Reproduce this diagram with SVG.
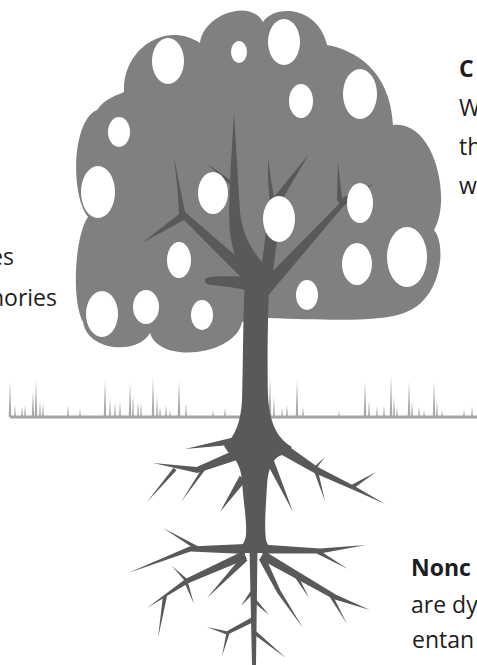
<svg xmlns="http://www.w3.org/2000/svg" width="477" height="665" viewBox="0 0 477 665">
  <style>
    .crown { fill: #7f8082; }
    .wood { fill: #58595b; }
    .hole { fill: #ffffff; }
    .grass { fill: #a9a9a9; }
    .soil { fill: #a3a3a3; }
    .txt { font-family: "Open Sans", "Noto Sans", "Liberation Sans", sans-serif; font-size: 23px; fill: #1d1d1d; }
    .bold { font-weight: 700; }
  </style>
  <rect width="477" height="665" fill="#ffffff"/>

  <!-- leafy crown -->
  <g id="crown">
    <path class="crown" d="M 200,43 C 203,15 250,-2 263,22 C 275,4 318,6 327,45 C 355,50 390,70 393,125 C 435,120 452,200 434,230 C 447,245 442,300 404,313 C 380,322 330,320 268,318 L 242,322 C 236,355 160,365 150,333 C 138,355 88,352 83,322 C 71,300 75,235 88,217 C 70,195 72,120 97,110 C 105,98 118,95 124,92 C 122,50 165,20 200,43 Z"/>
  </g>

  <!-- ground line with grass -->
  <g id="ground">
    <rect class="soil" x="10" y="415.5" width="467" height="3"/>
    <g class="grass">
      <polygon points="8.7,417 10,381 11.3,417"/>
      <polygon points="14,417 15,405 16,417"/>
      <polygon points="21,417 22,406 23,417"/>
      <polygon points="24,417 25,405 26,417"/>
      <polygon points="31.8,417 33,390 34.2,417"/>
      <polygon points="34.7,417 36,380 37.3,417"/>
      <polygon points="39,417 40,401 41,417"/>
      <polygon points="42,417 43,403 44,417"/>
      <polygon points="67,417 68,405 69,417"/>
      <polygon points="79,417 80,408 81,417"/>
      <polygon points="103.7,417 105,380 106.3,417"/>
      <polygon points="109,417 110,398 111,417"/>
      <polygon points="114,417 115,403 116,417"/>
      <polygon points="119,417 120,401 121,417"/>
      <polygon points="128.7,417 130,383 131.3,417"/>
      <polygon points="132,417 133,395 134,417"/>
      <polygon points="137,417 138,401 139,417"/>
      <polygon points="140,417 141,403 142,417"/>
      <polygon points="151.7,417 153,377 154.3,417"/>
      <polygon points="156,417 157,396 158,417"/>
      <polygon points="159,417 160,406 161,417"/>
      <polygon points="165,417 166,405 167,417"/>
      <polygon points="169,417 170,410 171,417"/>
      <polygon points="177.7,417 179,380 180.3,417"/>
      <polygon points="185,417 186,403 187,417"/>
      <polygon points="212,417 213,410 214,417"/>
      <polygon points="224,417 225,408 226,417"/>
      <polygon points="268.7,417 270,377 271.3,417"/>
      <polygon points="273,417 274,396 275,417"/>
      <polygon points="281,417 282,408 283,417"/>
      <polygon points="286,417 287,405 288,417"/>
      <polygon points="295.7,417 297,380 298.3,417"/>
      <polygon points="302,417 303,407 304,417"/>
      <polygon points="338,417 339,411 340,417"/>
      <polygon points="363.7,417 365,381 366.3,417"/>
      <polygon points="368,417 369,400 370,417"/>
      <polygon points="376,417 377,406 378,417"/>
      <polygon points="383,417 384,405 385,417"/>
      <polygon points="389.7,417 391,376 392.3,417"/>
      <polygon points="393,417 394,396 395,417"/>
      <polygon points="396,417 397,408 398,417"/>
      <polygon points="407.7,417 409,381 410.3,417"/>
      <polygon points="411,417 412,401 413,417"/>
      <polygon points="418,417 419,406 420,417"/>
      <polygon points="423,417 424,410 425,417"/>
      <polygon points="432.7,417 434,381 435.3,417"/>
      <polygon points="436,417 437,400 438,417"/>
      <polygon points="441,417 442,410 443,417"/>
      <polygon points="463,417 464,410 465,417"/>
      <polygon points="471,417 472,406 473,417"/>
    </g>
  </g>

  <!-- limbs inside the crown -->
  <g id="branches" class="wood">
    <path d="M 234,113 L 237.5,170 L 240,212 C 242,232 250,248 262,262 L 264,282 L 244,288 C 238,266 231,246 229.5,228 L 229,210 L 230.5,170 Z"/>
    <polygon points="232.3,181.4 206,163 229.8,184.6"/>
    <polygon points="252.7,270.5 185,212 180.5,190 174,157 177.5,190 179,214 142,243 184,220 243.3,279.5"/>
    <polygon points="260,278 266,232 270,205 268,180 268,157 271,180 274,197 309,154 280,203 278,232 272,280"/>
    <polygon points="256.9,287.2 339.4,203.6 337,200 338,162 342,198 373,184 343.5,206 267.1,296.8"/>
    <path d="M 250,277 C 235,276 220,276 210,277 Q 204,278 205,281 Q 206,285 211,285 C 224,286 238,288 250,291 Z"/>
  </g>

  <!-- openings in the foliage -->
  <g id="holes" class="hole">
    <ellipse cx="168" cy="61" rx="16" ry="23"/>
    <ellipse cx="239" cy="52" rx="8" ry="11"/>
    <ellipse cx="284" cy="42" rx="16" ry="23"/>
    <ellipse cx="301" cy="101" rx="12" ry="17"/>
    <ellipse cx="360" cy="94" rx="17" ry="25"/>
    <ellipse cx="119" cy="132" rx="11" ry="15"/>
    <ellipse cx="98" cy="192" rx="17" ry="26"/>
    <ellipse cx="213" cy="193" rx="15" ry="21"/>
    <ellipse cx="279" cy="219" rx="16" ry="23"/>
    <ellipse cx="360" cy="203" rx="13" ry="20"/>
    <ellipse cx="407" cy="257" rx="20" ry="30"/>
    <ellipse cx="179" cy="260" rx="12" ry="18"/>
    <ellipse cx="357" cy="264" rx="15" ry="21"/>
    <ellipse cx="307" cy="295" rx="11" ry="15"/>
    <ellipse cx="102" cy="314" rx="16" ry="23"/>
    <ellipse cx="146" cy="307" rx="13" ry="17"/>
    <ellipse cx="202" cy="315" rx="11" ry="15"/>
  </g>

  <!-- trunk and root system -->
  <g id="roots" class="wood">
    <path d="M 246,265 L 270,262 C 268,300 267,360 268,395 C 269,420 276,438 292,447 L 282,455 C 272,458 268,470 267,485 C 266,505 264,525 266,540 C 268,548 275,551 282,553 L 230,553 C 238,550 245,545 246,535 C 247,520 243,500 242,480 C 241,468 236,458 228,452 L 224,446 C 236,436 241,420 242,400 C 243,370 243,330 244,300 Z"/>
    <polygon points="239.4,436 185,449 240.6,444"/>
    <polygon points="234.2,450.3 196.7,467 153,463 197.3,473 237.8,459.7"/>
    <polygon points="173.5,467.7 147,502 176.5,470.3"/>
    <polygon points="203.4,465.9 181,502 206.6,468.1"/>
    <polygon points="239.7,475.8 220,512 246.3,480.2"/>
    <polygon points="261.9,453.9 293,512 270.1,450.2"/>
    <polygon points="281.2,440.9 317.7,466.9 354.9,486.2 385,504 353.1,489.8 314.3,473.1 274.8,451.1"/>
    <polygon points="315.1,470 325,457 312.9,468"/>
    <polygon points="314.1,471.6 325,501 317.9,470.4"/>
    <polygon points="353.1,488.7 376,472 350.9,485.3"/>
    <polygon points="245,544 189.5,546.6 128,573 190.5,551.4 245,554"/>
    <polygon points="198,546.3 163,528 196,549.7"/>
    <polygon points="243.2,550.9 185.8,578.8 147,608 188.2,583.2 246.8,559.1"/>
    <polygon points="187.1,578.9 172,566 184.9,581.1"/>
    <polygon points="184.4,582.6 194,604 187.6,581.4"/>
    <polygon points="163,595.7 158,638 167,596.3"/>
    <polygon points="242.5,555.6 207,598 247.5,560.4"/>
    <polygon points="249.5,548 252,665 256,665 257.5,548"/>
    <polygon points="251.4,589.8 241,606 254.6,592.2"/>
    <polygon points="252.6,601.4 269,615 255.4,598.6"/>
    <polygon points="252.9,616.8 226.8,631.3 207,627 227.2,634.7 255.2,621.2"/>
    <polygon points="226.5,632.6 222,656 229.5,633.4"/>
    <polygon points="252.7,633.6 286,658 255.3,630.4"/>
    <polygon points="262,544.5 320,548.5 366,545 320,553.5 262,553.5"/>
    <polygon points="317,553.7 348,569 319,550.3"/>
    <polygon points="259.8,558.9 333.9,599.3 370,610 336.1,594.7 264.3,551.1"/>
    <polygon points="293.3,575 309,598 296.7,573"/>
    <polygon points="328.5,594.9 347,624 331.5,593.1"/>
    <polygon points="258.9,559.6 277.3,593 303,628 280.7,591 265.1,556.4"/>
  </g>

  <!-- captions, running off the edges -->
  <g id="labels" class="txt">
    <text x="14" y="265" text-anchor="end">es</text>
    <text x="57" y="306" text-anchor="end">nories</text>
    <text x="459" y="77" class="bold">C</text>
    <text x="459" y="116">W</text>
    <text x="459" y="155">th</text>
    <text x="459" y="194">w</text>
    <text x="411" y="576" class="bold">Nonc</text>
    <text x="411" y="613">are dy</text>
    <text x="412" y="648">entan</text>
  </g>
</svg>
